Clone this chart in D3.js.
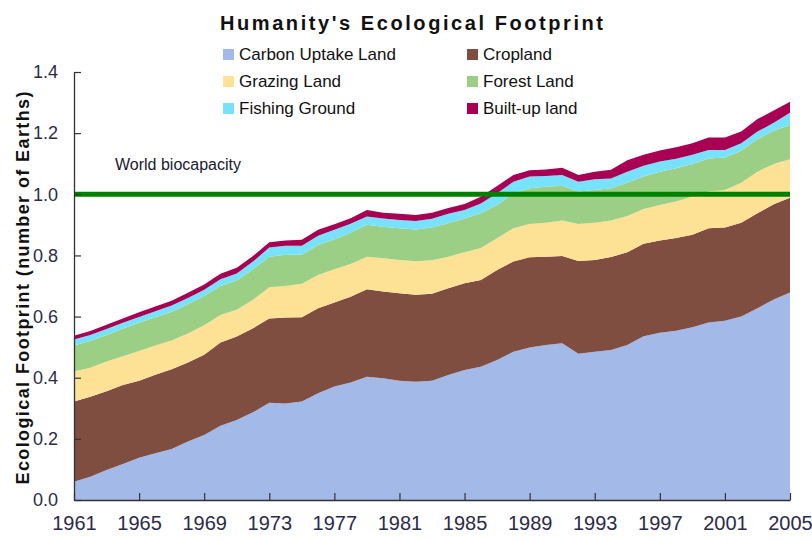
<!DOCTYPE html>
<html>
<head>
<meta charset="utf-8">
<script src="https://cdn.jsdelivr.net/npm/d3@7"></script>
<style>
  html, body { margin: 0; padding: 0; background: #fff; }
  svg { display: block; font-family: Arial, "Liberation Sans", sans-serif; }
</style>
</head>
<body>
<svg id="chart" width="812" height="540"></svg>
<script>
// ---- Data (number of Earths, per land type, not cumulative) ----
const years = [1961,1962,1963,1964,1965,1966,1967,1968,1969,1970,
               1971,1972,1973,1974,1975,1976,1977,1978,1979,1980,
               1981,1982,1983,1984,1985,1986,1987,1988,1989,1990,
               1991,1992,1993,1994,1995,1996,1997,1998,1999,2000,
               2001,2002,2003,2004,2005];

const carbonUptake = [0.060,0.076,0.098,0.118,0.138,0.153,0.167,0.191,0.213,0.243,
                      0.262,0.287,0.318,0.316,0.322,0.349,0.371,0.384,0.403,0.398,
                      0.390,0.387,0.390,0.409,0.425,0.436,0.458,0.485,0.499,0.507,
                      0.513,0.478,0.485,0.491,0.507,0.536,0.547,0.554,0.565,0.581,
                      0.586,0.600,0.627,0.656,0.679];
const cropland     = [0.262,0.262,0.258,0.258,0.252,0.257,0.261,0.259,0.262,0.272,
                      0.273,0.275,0.276,0.281,0.276,0.278,0.275,0.281,0.286,0.284,
                      0.286,0.284,0.285,0.284,0.284,0.284,0.294,0.295,0.295,0.289,
                      0.285,0.304,0.300,0.304,0.303,0.302,0.302,0.303,0.303,0.308,
                      0.305,0.307,0.311,0.311,0.310];
const grazingLand  = [0.098,0.095,0.097,0.094,0.097,0.095,0.094,0.095,0.097,0.090,
                      0.087,0.093,0.102,0.103,0.109,0.109,0.109,0.107,0.107,0.109,
                      0.109,0.110,0.109,0.103,0.101,0.104,0.104,0.109,0.109,0.111,
                      0.116,0.121,0.122,0.119,0.119,0.114,0.116,0.119,0.125,0.120,
                      0.123,0.131,0.136,0.132,0.126];
const forestLand   = [0.085,0.087,0.087,0.090,0.093,0.093,0.094,0.095,0.095,0.095,
                      0.096,0.100,0.100,0.102,0.095,0.098,0.098,0.102,0.104,0.103,
                      0.104,0.104,0.107,0.109,0.111,0.114,0.109,0.114,0.117,0.118,
                      0.114,0.106,0.107,0.106,0.109,0.106,0.109,0.109,0.106,0.108,
                      0.106,0.104,0.106,0.109,0.112];
const fishingGround= [0.020,0.020,0.019,0.020,0.019,0.019,0.020,0.021,0.021,0.022,
                      0.023,0.025,0.030,0.030,0.030,0.030,0.031,0.030,0.027,0.027,
                      0.027,0.028,0.029,0.031,0.028,0.032,0.038,0.038,0.038,0.035,
                      0.035,0.032,0.035,0.032,0.036,0.035,0.033,0.031,0.030,0.028,
                      0.025,0.025,0.025,0.026,0.040];
const builtUpLand  = [0.012,0.013,0.014,0.014,0.015,0.016,0.016,0.017,0.017,0.018,
                      0.019,0.018,0.017,0.017,0.019,0.020,0.018,0.018,0.022,0.019,
                      0.020,0.019,0.020,0.019,0.019,0.022,0.024,0.022,0.021,0.021,
                      0.024,0.022,0.025,0.028,0.037,0.036,0.036,0.038,0.038,0.041,
                      0.041,0.038,0.041,0.040,0.036];

const seriesNames  = ["Carbon Uptake Land","Cropland","Grazing Land","Forest Land","Fishing Ground","Built-up land"];
const seriesColors = ["#a3b9e7","#804e40","#fde296","#9ccf86","#78e2fc","#a80052"];
const xTickYears   = [1961,1965,1969,1973,1977,1981,1985,1989,1993,1997,2001,2005];
const yTickValues  = [0.0,0.2,0.4,0.6,0.8,1.0,1.2,1.4];
const biocapacity  = 1.0;

// ---- Build table for the stack ----
const seriesArrays = [carbonUptake, cropland, grazingLand, forestLand, fishingGround, builtUpLand];
const table = years.map((yr, i) => {
  const row = { year: yr };
  seriesNames.forEach((name, k) => row[name] = seriesArrays[k][i]);
  return row;
});

const svg = d3.select("#chart");

const x = d3.scaleLinear().domain([1961, 2005]).range([74, 790]);
const y = d3.scaleLinear().domain([0, 1.4]).range([500, 72]);

const stacked = d3.stack().keys(seriesNames)(table);

const area = d3.area()
  .x(d => x(d.data.year))
  .y0(d => y(d[0]))
  .y1(d => y(d[1]))
  .curve(d3.curveLinear);

svg.append("g").selectAll("path")
  .data(stacked)
  .join("path")
  .attr("d", area)
  .attr("fill", (d, i) => seriesColors[i]);

// biocapacity line
svg.append("line")
  .attr("x1", x(1961)).attr("x2", x(2005))
  .attr("y1", y(biocapacity)).attr("y2", y(biocapacity))
  .attr("stroke", "#008000").attr("stroke-width", 5);

svg.append("text")
  .attr("x", 115).attr("y", 170)
  .attr("font-size", 16).attr("fill", "#1a1a2e")
  .text("World biocapacity");

// axes
const yAxis = d3.axisLeft(y)
  .tickValues(yTickValues)
  .tickFormat(d3.format(".1f"))
  .tickSizeInner(-7).tickSizeOuter(0).tickPadding(16);
const gy = svg.append("g").attr("transform", `translate(${x(1961)},0)`).call(yAxis);
gy.selectAll("text").attr("font-size", 18).attr("fill", "#2b2b48")
  .attr("font-family", "Arial, 'Liberation Sans', sans-serif");

const xAxis = d3.axisBottom(x)
  .tickValues(xTickYears)
  .tickFormat(d3.format("d"))
  .tickSizeInner(-7).tickSizeOuter(0).tickPadding(16);
const gx = svg.append("g").attr("transform", `translate(0,${y(0)})`).call(xAxis);
gx.selectAll("text").attr("font-size", 20).attr("fill", "#2b2b48")
  .attr("font-family", "Arial, 'Liberation Sans', sans-serif");

[gx, gy].forEach(g => {
  g.select(".domain").attr("stroke", "#333").attr("stroke-width", 1.3);
  g.selectAll(".tick line").attr("stroke", "#333").attr("stroke-width", 1.2);
});

// title
svg.append("text")
  .attr("x", 220).attr("y", 30)
  .attr("font-size", 20).attr("font-weight", "bold").attr("fill", "#111")
  .attr("textLength", 383).attr("lengthAdjust", "spacing")
  .text("Humanity's Ecological Footprint");

// y-axis title
svg.append("text")
  .attr("transform", "translate(29,288) rotate(-90)")
  .attr("text-anchor", "middle")
  .attr("font-size", 18).attr("font-weight", "bold").attr("fill", "#111")
  .attr("textLength", 393).attr("lengthAdjust", "spacing")
  .text("Ecological Footprint (number of Earths)");

// legend
const legendCols = [223, 467];
const legendRows = [60, 87, 114];
const lg = svg.append("g").selectAll("g")
  .data(seriesNames)
  .join("g")
  .attr("transform", (d, i) => `translate(${legendCols[i % 2]},${legendRows[Math.floor(i / 2)]})`);
lg.append("rect")
  .attr("x", 0).attr("y", -11).attr("width", 11).attr("height", 11)
  .attr("fill", (d, i) => seriesColors[i]);
lg.append("text")
  .attr("x", 16).attr("y", 0)
  .attr("font-size", 17).attr("fill", "#111")
  .text(d => d);
</script>
</body>
</html>
